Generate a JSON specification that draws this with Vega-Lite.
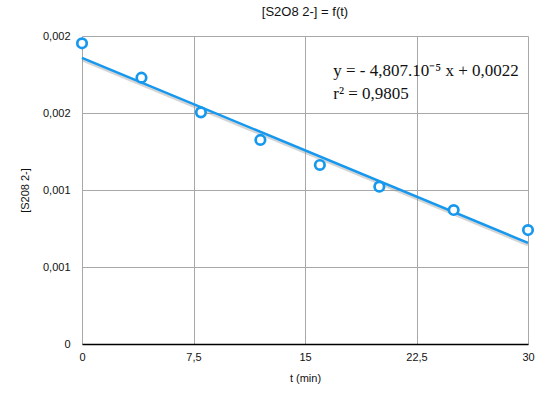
{
  "$schema": "https://vega.github.io/schema/vega-lite/v6.json",
  "autosize": "none",
  "width": 446,
  "height": 308,
  "padding": {"left": 82, "top": 36, "right": 27, "bottom": 50},
  "background": "white",
  "config": {
    "locale": {"number": {"decimal": ",", "thousands": ".", "grouping": [3], "currency": ["", " €"]}},
    "view": {"stroke": null},
    "font": "Liberation Sans"
  },
  "title": {"text": "[S2O8 2-] = f(t)", "fontSize": 13, "fontWeight": "normal", "color": "#111", "font": "Liberation Sans", "offset": 11, "anchor": "middle"},
  "datasets": {
    "points": [
      {"t": 0, "c": 0.002343},
      {"t": 4, "c": 0.002075},
      {"t": 8, "c": 0.001805},
      {"t": 12, "c": 0.00159},
      {"t": 16, "c": 0.001395},
      {"t": 20, "c": 0.001226},
      {"t": 25, "c": 0.001044},
      {"t": 30, "c": 0.000888}
    ],
    "fit": [
      {"t": 0, "c": 0.00223},
      {"t": 30, "c": 0.000788}
    ],
    "labels": [
      {"t": 16.9, "c": 0.002127, "label": "y = - 4,807.10⁻⁵ x + 0,0022"},
      {"t": 16.9, "c": 0.001945, "label": "r² = 0,9805"}
    ]
  },
  "encoding": {
    "x": {"field": "t", "type": "quantitative",
      "scale": {"domain": [0, 30], "nice": false, "zero": false},
      "axis": {"title": "t (min)", "values": [0, 7.5, 15, 22.5, 30], "format": ".1~f", "grid": true, "gridColor": "#a8a8a8", "gridWidth": 1, "gridOpacity": 1,
        "domainColor": "#000", "domainWidth": 1.5, "ticks": false, "labelPadding": 7, "labelFontSize": 11, "labelColor": "#111",
        "titleFontSize": 11, "titleFontWeight": "normal", "titleColor": "#111", "titlePadding": 10, "labelFlush": false}},
    "y": {"field": "c", "type": "quantitative",
      "scale": {"domain": [0, 0.0024], "nice": false},
      "axis": {"title": "[S208 2-]", "values": [0, 0.0006, 0.0012, 0.0018, 0.0024], "format": ".3~f", "grid": true, "gridColor": "#a8a8a8", "gridWidth": 1, "gridOpacity": 1,
        "domain": false, "ticks": false, "labelPadding": 12, "labelFontSize": 11, "labelColor": "#111",
        "titleFontSize": 11, "titleFontWeight": "normal", "titleColor": "#111", "titlePadding": 12, "labelFlush": false}}
  },
  "layer": [
    {"data": {"name": "fit"}, "mark": {"type": "line", "color": "#888", "strokeWidth": 3, "opacity": 0.35, "yOffset": 2, "clip": true}},
    {"data": {"name": "fit"}, "mark": {"type": "line", "color": "#1598ee", "strokeWidth": 2.5}},
    {"data": {"name": "points"}, "mark": {"type": "point", "shape": "circle", "filled": false, "fill": "white", "fillOpacity": 1, "stroke": "#1598ee", "strokeWidth": 2.7, "size": 90, "opacity": 1}},
    {"data": {"name": "labels"}, "mark": {"type": "text", "align": "left", "baseline": "middle", "font": "Liberation Serif", "fontSize": 17, "color": "#111"},
      "encoding": {"text": {"field": "label"}}}
  ]
}
